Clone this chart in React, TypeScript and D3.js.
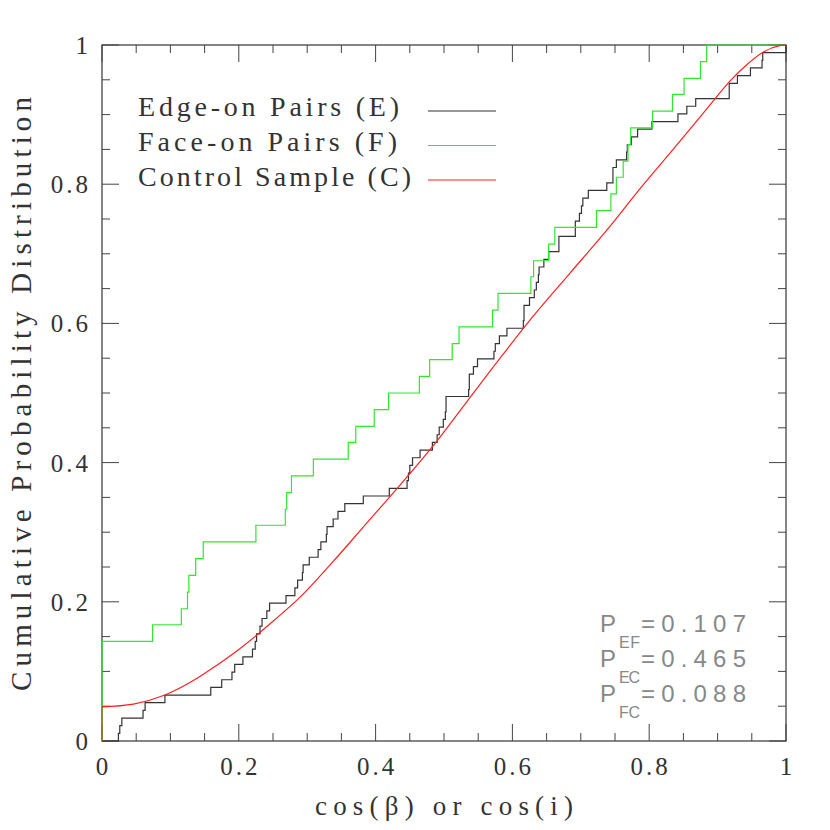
import * as d3 from 'd3'

// cumulative distributions
const edgeCos = [0.024, 0.026, 0.029, 0.060, 0.063, 0.092, 0.159, 0.175, 0.190, 0.194, 0.206, 0.220, 0.224, 0.226, 0.231, 0.234, 0.241, 0.245, 0.269, 0.282, 0.286, 0.293, 0.294, 0.303, 0.316, 0.320, 0.328, 0.329, 0.338, 0.345, 0.355, 0.382, 0.420, 0.446, 0.448, 0.450, 0.454, 0.465, 0.483, 0.490, 0.493, 0.499, 0.502, 0.503, 0.536, 0.537, 0.543, 0.549, 0.573, 0.575, 0.581, 0.592, 0.616, 0.617, 0.625, 0.632, 0.635, 0.638, 0.639, 0.646, 0.653, 0.668, 0.692, 0.698, 0.701, 0.703, 0.711, 0.738, 0.747, 0.752, 0.767, 0.768, 0.774, 0.783, 0.804, 0.842, 0.855, 0.868, 0.917, 0.929, 0.948, 0.965, 0.966, 1.0]
const edgeCdf = [0.011, 0.022, 0.033, 0.044, 0.055, 0.066, 0.077, 0.088, 0.099, 0.110, 0.121, 0.132, 0.143, 0.154, 0.165, 0.176, 0.187, 0.198, 0.209, 0.220, 0.231, 0.242, 0.253, 0.264, 0.275, 0.286, 0.297, 0.308, 0.319, 0.330, 0.341, 0.352, 0.363, 0.374, 0.385, 0.396, 0.407, 0.418, 0.429, 0.440, 0.451, 0.462, 0.473, 0.495, 0.505, 0.527, 0.538, 0.549, 0.560, 0.571, 0.582, 0.593, 0.604, 0.626, 0.637, 0.648, 0.659, 0.670, 0.681, 0.692, 0.703, 0.725, 0.747, 0.758, 0.769, 0.780, 0.791, 0.802, 0.824, 0.835, 0.846, 0.857, 0.868, 0.879, 0.890, 0.901, 0.912, 0.923, 0.945, 0.956, 0.967, 0.978, 0.989, 1.0]

const faceCos = [0, 0.074, 0.116, 0.125, 0.127, 0.137, 0.148, 0.225, 0.268, 0.270, 0.277, 0.309, 0.360, 0.371, 0.398, 0.419, 0.464, 0.479, 0.512, 0.522, 0.571, 0.579, 0.627, 0.631, 0.653, 0.662, 0.723, 0.744, 0.752, 0.762, 0.769, 0.773, 0.805, 0.834, 0.851, 0.875, 0.884]
const faceCdf = [0.143, 0.167, 0.190, 0.214, 0.238, 0.262, 0.286, 0.310, 0.333, 0.357, 0.381, 0.405, 0.429, 0.452, 0.476, 0.500, 0.524, 0.548, 0.571, 0.595, 0.619, 0.643, 0.667, 0.690, 0.714, 0.738, 0.762, 0.786, 0.810, 0.833, 0.857, 0.881, 0.905, 0.929, 0.952, 0.976, 1.0]

const controlCos = [0, 0.046, 0.092, 0.139, 0.168, 0.202, 0.226, 0.25, 0.29, 0.338, 0.387, 0.436, 0.484, 0.533, 0.582, 0.631, 0.684, 0.738, 0.787, 0.835, 0.873, 0.894, 0.918, 0.943, 0.967, 0.991, 1]
const controlCdf = [0.049, 0.053, 0.066, 0.09, 0.109, 0.133, 0.152, 0.172, 0.207, 0.258, 0.313, 0.368, 0.424, 0.487, 0.550, 0.611, 0.672, 0.734, 0.794, 0.850, 0.895, 0.920, 0.948, 0.972, 0.990, 0.999, 1]

const tickLabels = ['0', '0.2', '0.4', '0.6', '0.8', '1']
const legendLabels = ['Edge-on Pairs (E)', 'Face-on Pairs (F)', 'Control Sample (C)']
const pNames = ['EF', 'EC', 'FC']
const pValues = ['0.107', '0.465', '0.088']

const BLACK = '#333'
const GREEN = '#2ee82e'
const RED = '#ff2020'

type Pt = [number, number]

function App() {
  const x = d3.scaleLinear().domain([0, 1]).range([102, 786])
  const y = d3.scaleLinear().domain([0, 1]).range([741, 45])

  const stepLine = d3.line<Pt>().x(d => x(d[0])).y(d => y(d[1])).curve(d3.curveStepAfter)
  const smoothLine = d3.line<Pt>().x(d => x(d[0])).y(d => y(d[1])).curve(d3.curveMonotoneX)
  const straight = d3.line<Pt>().x(d => x(d[0])).y(d => y(d[1]))

  const edgePts: Pt[] = [[0, 0], ...edgeCos.map((c, i) => [c, edgeCdf[i]] as Pt)]
  const facePts: Pt[] = [[0, 0], ...faceCos.map((c, i) => [c, faceCdf[i]] as Pt), [1, 1]]
  const ctrlPts: Pt[] = controlCos.map((c, i) => [c, controlCdf[i]] as Pt)

  const minor = x.ticks(20)
  const isMajor = (t: number) => Math.abs(t * 5 - Math.round(t * 5)) < 1e-6
  const tl = (t: number) => (isMajor(t) ? 17 : 8)

  const legendColors = [BLACK, GREEN, RED]
  const legendWidths = [261, 259, 273]

  return (
    <svg width={830} height={830} style={{ position: 'absolute', left: 0, top: 0, background: '#fff' }}>
      <rect x={102} y={45} width={684} height={696} fill="none" stroke="#444" strokeWidth={1.3} />
      <g stroke="#444" strokeWidth={1}>
        {minor.map(t => (
          <g key={'t' + t}>
            <line x1={x(t)} x2={x(t)} y1={741} y2={741 - tl(t)} />
            <line x1={x(t)} x2={x(t)} y1={45} y2={45 + tl(t)} />
            <line x1={102} x2={102 + tl(t)} y1={y(t)} y2={y(t)} />
            <line x1={786} x2={786 - tl(t)} y1={y(t)} y2={y(t)} />
          </g>
        ))}
      </g>

      <g fontFamily="Liberation Serif" fontSize={25} fill="#333" letterSpacing={3}>
        {x.ticks(5).map((t, i) => (
          <text key={'xl' + i} x={x(t) + 1.5} y={775} textAnchor="middle">{tickLabels[i]}</text>
        ))}
        {y.ticks(5).map((t, i) => (
          <text key={'yl' + i} x={91} y={y(t) + 9} textAnchor="end">{tickLabels[i]}</text>
        ))}
      </g>

      <text x={444} y={815} textAnchor="middle" fontFamily="Liberation Serif" fontSize={27} fill="#333"
        textLength={258} lengthAdjust="spacing">cos(β) or cos(i)</text>
      <text transform="translate(31,394) rotate(-90)" textAnchor="middle" fontFamily="Liberation Serif" fontSize={29}
        fill="#333" textLength={594} lengthAdjust="spacing">Cumulative Probability Distribution</text>

      <path d={stepLine(edgePts) ?? ''} fill="none" stroke={BLACK} strokeWidth={1.2} />
      <path d={stepLine(facePts) ?? ''} fill="none" stroke={GREEN} strokeWidth={1.2} />
      <path d={straight([[0, 0], ctrlPts[0]]) ?? ''} fill="none" stroke={RED} strokeOpacity={0.6} strokeWidth={1.2} />
      <path d={smoothLine(ctrlPts) ?? ''} fill="none" stroke={RED} strokeWidth={1.2} />

      <g fontFamily="Liberation Serif" fontSize={28} fill="#333">
        {legendLabels.map((l, i) => (
          <g key={l}>
            <text x={138} y={116 + i * 34.8} textLength={legendWidths[i]} lengthAdjust="spacing">{l}</text>
            <line x1={428} x2={496} y1={111 + i * 34.5} y2={111 + i * 34.5} stroke={legendColors[i]} strokeWidth={1.2} />
          </g>
        ))}
      </g>

      <g fontFamily="Liberation Sans" fill="#888">
        {pNames.map((n, i) => (
          <g key={n}>
            <text x={600} y={632 + i * 35} fontSize={24}>P</text>
            <text x={619} y={648 + i * 35} fontSize={16} textLength={21} lengthAdjust="spacing">{n}</text>
            <text x={641} y={632 + i * 35} fontSize={24} textLength={105} lengthAdjust="spacing">={pValues[i]}</text>
          </g>
        ))}
      </g>
    </svg>
  )
}

export default App
